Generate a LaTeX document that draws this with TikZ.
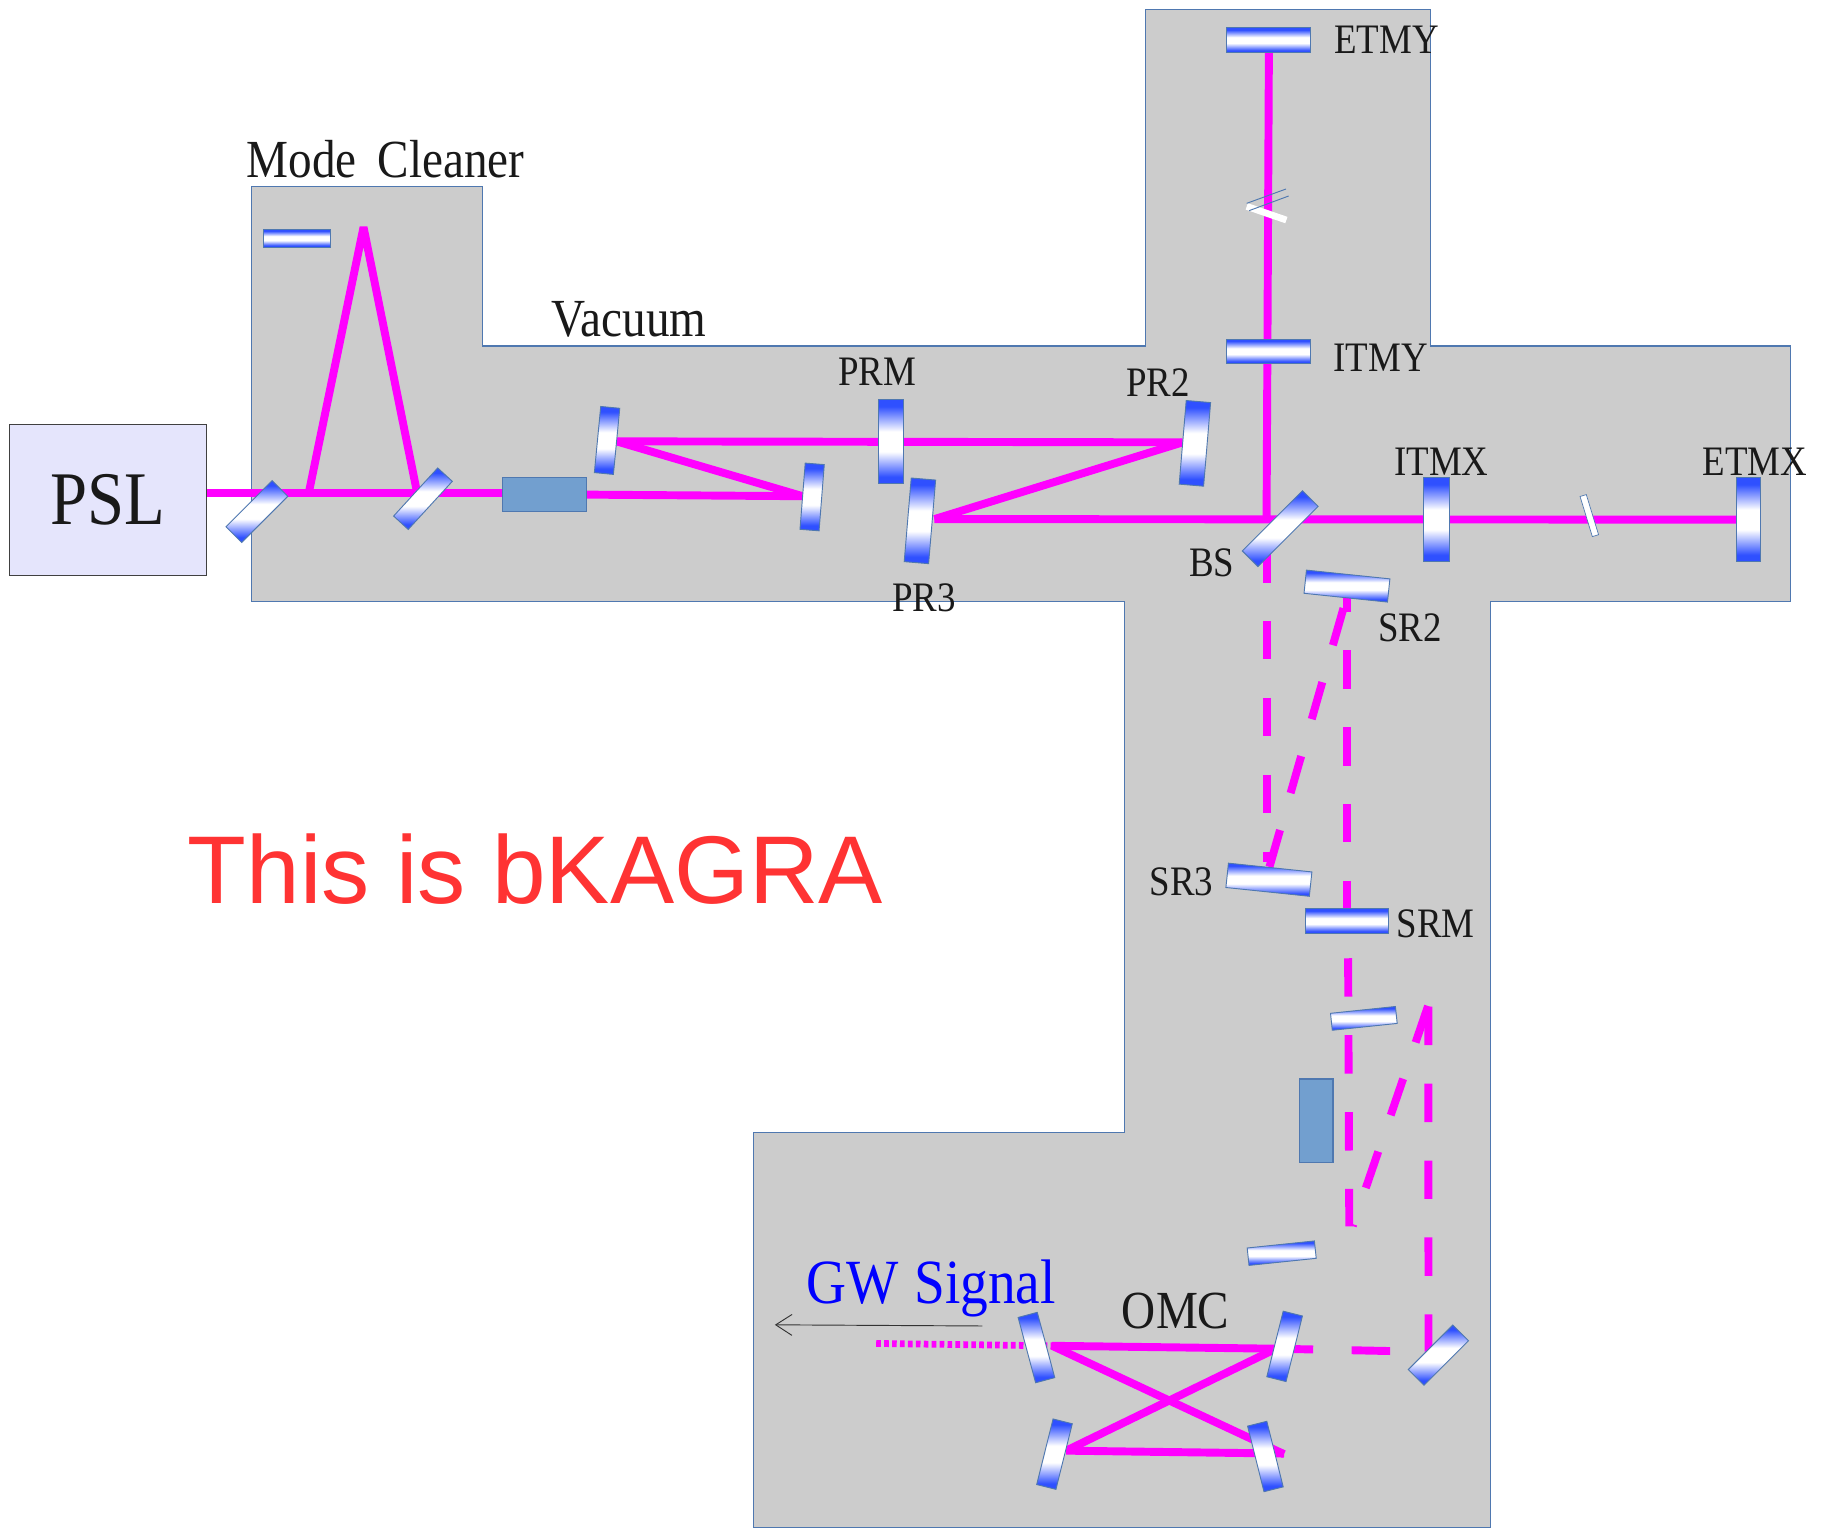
\documentclass[tikz,border=0pt]{standalone}
\usepackage{fontspec}
\setmainfont[FakeStretch=0.88]{Liberation Serif}
\newfontfamily\redfont{Liberation Sans}
\usetikzlibrary{backgrounds,arrows.meta}
\definecolor{edgeblue}{HTML}{4F78B0}
\definecolor{mirblue}{HTML}{2F50FF}
\definecolor{boxblue}{HTML}{729FCF}
\definecolor{pslblue}{HTML}{E5E5FC}
\definecolor{vacgray}{HTML}{CCCCCC}
\definecolor{sigred}{HTML}{FF3333}
\definecolor{beamcol}{HTML}{FF00FF}
\pgfdeclareverticalshading{mirshade}{100bp}{color(0bp)=(mirblue); color(25bp)=(mirblue); color(29bp)=(mirblue); color(44bp)=(white); color(56bp)=(white); color(71bp)=(mirblue); color(75bp)=(mirblue); color(100bp)=(mirblue)}
\begin{document}
\begin{tikzpicture}[x=0.5pt,y=-0.5pt,
  beam/.style={draw=beamcol,line width=3.4pt,line join=bevel},
  dashbeam/.style={beam,dash pattern=on 16.5pt off 16.5pt},
  dotbeam/.style={beam,line width=2.9pt,dash pattern=on 2pt off 1.4pt},
  mirror/.style 2 args={rectangle,draw=edgeblue,line width=0.4pt,inner sep=0pt,outer sep=0pt,minimum width=#1,minimum height=#2,shading=mirshade},
  block/.style 2 args={rectangle,draw=edgeblue,line width=0.5pt,fill=boxblue,inner sep=0pt,outer sep=0pt,minimum width=#1,minimum height=#2},
  lbl/.style={text=black!90,inner sep=0pt,font=\fontsize{18}{20}\selectfont},
  lblbig/.style={text=black!90,inner sep=0pt,font=\fontsize{23}{25}\selectfont}]
\useasboundingbox (0,0) rectangle (1568,1311);

% laser and input optics
\node[rectangle,draw=black!75,line width=0.5pt,fill=pslblue,minimum width=84.5pt,minimum height=65pt,inner sep=0pt,outer sep=0pt,text=black!90,font=\fontsize{32.5}{34}\selectfont] (psl) at(92.5,429) {\raisebox{-1pt}{PSL}};
\node[mirror={29pt}{7.5pt}] (mc3) at(255,204.5) {};
\node[mirror={9.5pt}{28pt},rotate=-45] (mc1) at(220.5,439) {};
\node[mirror={8.5pt}{28pt},rotate=-42.5] (mc2) at(363,428) {};
\node[block={36pt}{14.5pt}] (imo) at(467,424.5) {};
\node[mirror={8.2pt}{28.5pt},rotate=-5.5] (mmt1) at(521,378) {};
\node[mirror={8.2pt}{28.5pt},rotate=-4.5] (mmt2) at(697,426.5) {};

% power recycling
\node[mirror={10.5pt}{36pt}] (prm) at(764.5,379) {};
\node[mirror={10.5pt}{36pt},rotate=-4.8] (pr3) at(789.5,447) {};
\node[mirror={10.5pt}{36pt},rotate=-4.8] (pr2) at(1025.5,380.5) {};
\node[mirror={9.5pt}{36.5pt},rotate=-45] (bs) at(1098.7,453.7) {};

% arms
\node[mirror={11pt}{36pt}] (itmx) at(1233,446) {};
\node[mirror={10.5pt}{36pt}] (etmx) at(1500.5,446) {};
\node[mirror={36pt}{10.5pt}] (itmy) at(1089,301.5) {};
\node[mirror={36pt}{10.5pt}] (etmy) at(1089,34.5) {};
\node[rectangle,draw=edgeblue,line width=0.3pt,fill=white,inner sep=0pt,minimum width=2.8pt,minimum height=18pt,rotate=17] (brkx) at(1364,442.5) {};
\node[rectangle,fill=white,inner sep=0pt,minimum width=18pt,minimum height=2.9pt,rotate=-19] (brky) at(1087,183) {};

% signal recycling and omc
\node[mirror={36pt}{10pt},rotate=-6] (sr2) at(1156,503) {};
\node[mirror={36pt}{10.5pt},rotate=-6] (sr3) at(1089,755) {};
\node[mirror={36pt}{10.5pt}] (srm) at(1156,790.5) {};
\node[mirror={28pt}{7.3pt},rotate=6] (ofi1) at(1170.5,874) {};
\node[block={14.5pt}{36pt}] (ofi) at(1129.5,962) {};
\node[mirror={29pt}{7.5pt},rotate=6] (ofi2) at(1100,1075.5) {};
\node[mirror={9.5pt}{27pt},rotate=-45] (sm) at(1234.5,1163) {};
\node[mirror={8.5pt}{29pt},rotate=15] (omc1) at(889.5,1156.5) {};
\node[mirror={8.5pt}{29pt},rotate=-14] (omc2) at(1102.5,1155.5) {};
\node[mirror={8.5pt}{29pt},rotate=-14] (omc3) at(905,1248) {};
\node[mirror={8.5pt}{29pt},rotate=14] (omc4) at(1086,1250) {};

\coordinate (mcin) at(265,423);
\coordinate (mctop) at(312,195);
\coordinate (mcout) at(358,423);
\coordinate (pr3hit) at(802,445.5);
\coordinate (bshit) at(1087,445.5);
\coordinate (bsdown) at(1087.5,467);
\coordinate (sr3top) at(1087.5,740);
\coordinate (sr2in) at(1153,522);
\coordinate (sr3in) at(1089.5,744);
\coordinate (srmout) at(1157,822.4);
\coordinate (ofiend) at(1158,1052.5);
\coordinate (ofidiag) at(1161,1052.2);
\coordinate (fold) at(1225.6,863.4);
\coordinate (foldv) at(1225.8,864);
\coordinate (smup) at(1226,1160);
\coordinate (smleft) at(1193,1159.5);
\coordinate (omcin) at(903,1155);
\coordinate (omcright) at(1095,1157.5);
\coordinate (omcback) at(915,1245);
\coordinate (omcend) at(1102,1247.5);
\coordinate (omcdiag) at(1102,1248);
\coordinate (dotstart) at(752,1153);
\coordinate (arrowtail) at(843,1138);
\coordinate (arrowhead) at(665,1137);

\begin{scope}[on background layer]
\draw[edgeblue,line width=0.5pt,fill=vacgray] (216,160)--(414,160)--(414,297)--(983,297)--(983,8)--(1228,8)--(1228,297)--(1537,297)--(1537,516)--(1279,516)--(1279,1311)--(647,1311)--(647,972)--(965,972)--(965,516)--(216,516)--cycle;

\draw[beam] (psl.east |- mcin)--(mcin-|imo.west);
\draw[beam] (mcin)--(mctop)--(mcout);
\draw[beam] (imo.east)--(mmt2.west);
\draw[beam] (mmt1.east)--(mmt2.west);
\draw[beam] (mmt1.east)--(pr2.west);
\draw[beam] (pr2.west)--(pr3hit);
\draw[beam] (pr3hit)--(etmx.west);
\draw[beam] (bshit)--(etmy.south);

\draw[dashbeam] (bsdown)--(sr3top);
\draw[dashbeam] (sr2in)--(sr3in);
\draw[dashbeam,dash phase=5.5pt] (sr2.center)--(srm.north);
\draw[dashbeam] (srmout)--(ofiend);
\draw[dashbeam] (fold)--(ofidiag);
\draw[dashbeam] (foldv)--(smup);
\draw[dashbeam] (smleft)--(omcright);

\draw[beam] (omcin)--(omcright);
\draw[beam] (omcin)--(omcdiag);
\draw[beam] (omcright)--(omcback);
\draw[beam] (omcback)--(omcend);
\draw[dotbeam] (dotstart)--(omcin);
\end{scope}

% the two thin lines at the y arm break
\draw[edgeblue,line width=0.4pt] (1070,174.5)--(1103.7,162.2);
\draw[edgeblue,line width=0.4pt] (1072,180.8)--(1106,168.2);

\draw[black!80,line width=0.4pt,-{Straight Barb[length=7pt,width=9pt]}] (arrowtail)--(arrowhead);

\node[lblbig] (lmc) at(331,137) {Mode\hspace{4pt} Cleaner};
\node[lblbig] (lvac) at(540,274) {Vacuum};
\node[lbl] (lprm) at(753,319) {PRM};
\node[lbl] (lpr2) at(994,328) {PR2};
\node[lbl] (lpr3) at(793,513) {PR3};
\node[lbl] (lbs) at(1040,483) {BS};
\node[lbl] (letmy) at(1190,34) {ETMY};
\node[lbl] (litmy) at(1185,307) {ITMY};
\node[lbl] (litmx) at(1237,396) {ITMX};
\node[lbl] (letmx) at(1506,396) {ETMX};
\node[lbl] (lsr2) at(1210,539) {SR2};
\node[lbl] (lsr3) at(1014,757) {SR3};
\node[lbl] (lsrm) at(1232,793) {SRM};
\node[inner sep=0pt,text=blue,font=\fontsize{27}{29}\selectfont] (lgw) at(799,1106) {GW\hspace{1pt} Signal};
\node[lblbig] (lomc) at(1009,1125) {OMC};
\node[inner sep=0pt,text=sigred,font=\redfont\fontsize{41.3}{44}\selectfont] (lbk) at(459.5,746) {This is bKAGRA};
\end{tikzpicture}
\end{document}
